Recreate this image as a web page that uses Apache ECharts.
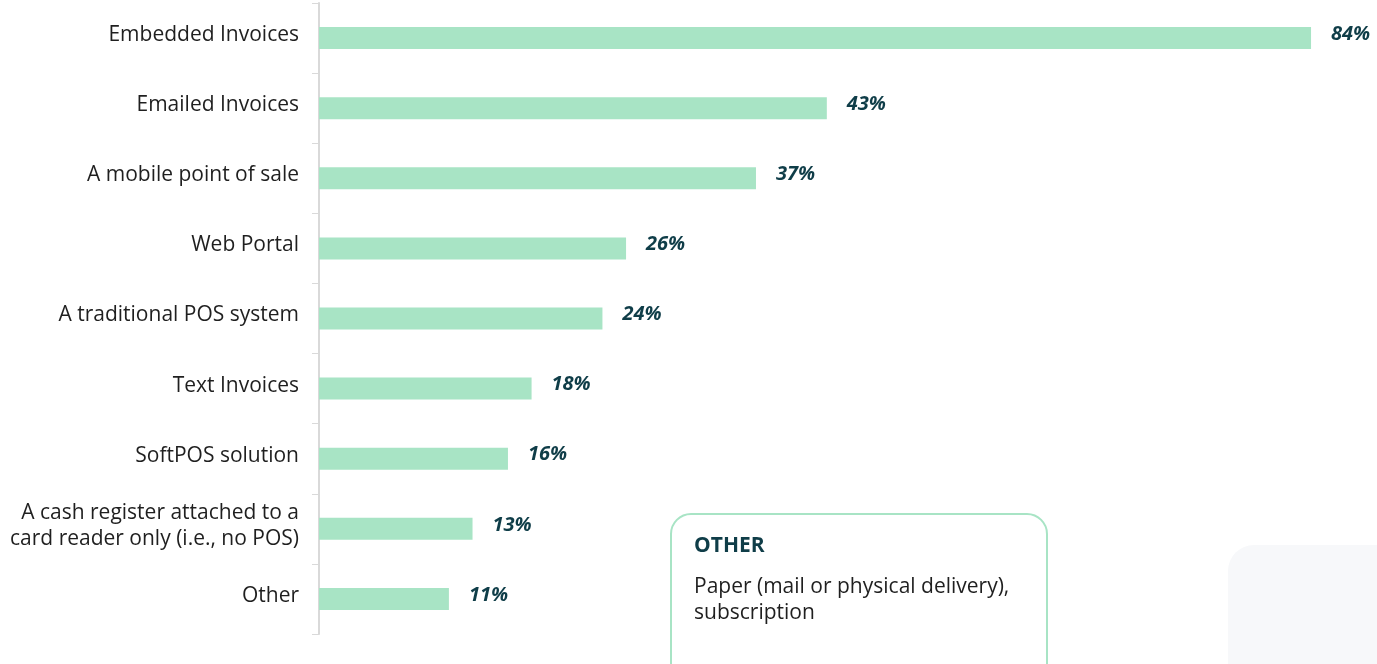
<!DOCTYPE html>
<html>
<head>
<meta charset="utf-8">
<script src="https://cdn.jsdelivr.net/npm/echarts@6/dist/echarts.min.js"></script>
<style>
  html, body { margin: 0; padding: 0; background: #ffffff; }
  #chart { width: 1377px; height: 664px; }
</style>
</head>
<body>
<div id="chart"></div>
<script>
// Payment acceptance methods, share of respondents (%)
const categories = [
  'Embedded Invoices',
  'Emailed Invoices',
  'A mobile point of sale',
  'Web Portal',
  'A traditional POS system',
  'Text Invoices',
  'SoftPOS solution',
  'A cash register attached to a\ncard reader only (i.e., no POS)',
  'Other'
];
const shares = [84, 43, 37, 26, 24, 18, 16, 13, 11];

const otherTitle = 'OTHER';
const otherText = 'Paper (mail or physical delivery),\nsubscription';

const chart = echarts.init(document.getElementById('chart'), null, { renderer: 'canvas' });

chart.setOption({
  animation: false,
  backgroundColor: '#ffffff',
  grid: { left: 319, top: 3, width: 1181, height: 631, containLabel: false, outerBoundsMode: 'none' },
  xAxis: {
    type: 'value',
    min: 0,
    max: 100,
    show: false
  },
  yAxis: {
    type: 'category',
    inverse: true,
    data: categories,
    axisLine: { show: true, lineStyle: { color: '#d9d9d9', width: 2 } },
    axisTick: { show: true, length: 7, lineStyle: { color: '#d9d9d9', width: 1 } },
    axisLabel: {
      margin: 20,
      align: 'right',
      formatter: function (v) {
        return v.split('\n').map(function (line) { return '{t|' + line + '}'; }).join('\n');
      },
      rich: {
        t: {
          color: '#1f1f1f',
          fontFamily: 'Open Sans',
          fontSize: 21,
          lineHeight: 26,
          padding: [0, 0, 6, 0],
          align: 'right'
        }
      }
    },
    splitLine: { show: false }
  },
  series: [{
    type: 'bar',
    data: shares,
    barWidth: 22,
    itemStyle: { color: '#a8e4c5' },
    label: {
      show: true,
      position: 'right',
      distance: 20,
      offset: [0, -4],
      formatter: '{c}%',
      color: '#0f3d48',
      fontFamily: 'Open Sans',
      fontSize: 20,
      fontWeight: 'bold',
      fontStyle: 'italic'
    }
  }],
  graphic: [
    {
      type: 'rect',
      left: 1228,
      top: 545,
      shape: { width: 200, height: 160, r: 26 },
      style: { fill: '#f7f8fa' },
      z: -1
    },
    {
      type: 'rect',
      left: 670,
      top: 513,
      shape: { width: 376, height: 170, r: 20 },
      style: { fill: '#ffffff', stroke: '#a8e4c5', lineWidth: 2 }
    },
    {
      type: 'text',
      left: 694,
      top: 536,
      style: {
        text: otherTitle,
        fill: '#0f3d48',
        font: 'bold 21px "Open Sans"'
      }
    },
    {
      type: 'text',
      left: 694,
      top: 574,
      style: {
        text: otherText,
        fill: '#1f1f1f',
        font: '21px "Open Sans"',
        lineHeight: 26
      }
    }
  ]
});
</script>
</body>
</html>
